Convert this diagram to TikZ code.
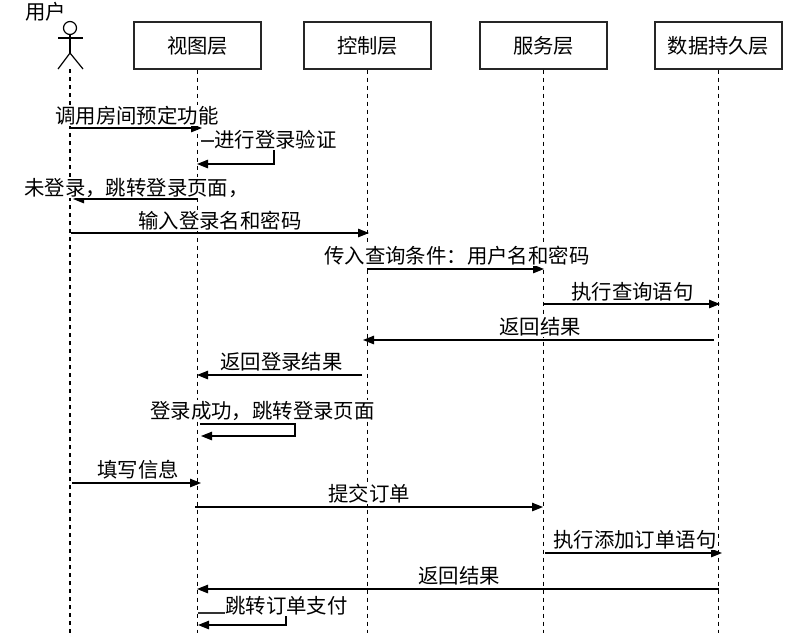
\documentclass[tikz,border=0pt]{standalone}
\usepackage{fontspec}
\setmainfont{Noto Sans CJK SC}
\usetikzlibrary{arrows.meta}
\tikzset{
  x=1pt,y=-1pt,
  head/.style={draw=black!85,line width=1.2pt,minimum width=127pt,minimum height=47pt,inner sep=0pt,font=\fontsize{20.3}{22}\selectfont,fill=white},
  life/.style={draw=black,line width=1.2pt,dash pattern=on 4pt off 4pt},
  msg/.style={draw=black,line width=1.2pt,-{Triangle[length=11pt,width=8.5pt]}},
  plainline/.style={draw=black!80,line width=1.1pt},
  lbl/.style={anchor=west,inner sep=0pt,fill=white,text height=19pt,text depth=2pt,font=\fontsize{20.4}{22}\selectfont},
}
\begin{document}
\begin{tikzpicture}
\useasboundingbox (0,0) rectangle (797,633);
% heads
\node[head] (v) at (197.5,45.5) {视图层};
\node[head] (c) at (367.5,45.5) {控制层};
\node[head] (s) at (543.5,45.5) {服务层};
\node[head] (d) at (718.5,45.5) {数据持久层};
\node[lbl] (ulbl) at (25,11) {用户};
% actor
\node[draw=black,line width=1.2pt,circle,minimum size=13pt,inner sep=0pt] (uh) at (70,28) {};
\coordinate (hip) at (70,53);
\coordinate (uf) at (70,69);
\draw[line width=1.2pt] (uh.south) -- (hip);
\draw[line width=1.2pt] (58,38) -- (83,38);
\draw[line width=1.2pt] (58,69) -- (hip) -- (83,69);
% lifelines
\coordinate (ue) at (70,633);
\draw[life] (uf) -- (ue);
\foreach \n/\x in {v/197.5,c/367.5,s/543.5,d/718.5}{
  \coordinate (\n e) at (\x,633);
  \draw[life] (\n.south) -- (\n e);
}
% messages
\foreach \nm/\ax/\ay/\bx/\by in {
 m1/71/128/202/128, m3/198/199/73/199, m4/71/233/369/233, m5/367/269/544/269,
 m6/544/304/720/304, m7/714/340/363/340, m8/362/375/197/375, m9/72/483/201/483,
 m10/195/507/543/507, m11/545/553/722/553, m12/719/589/197/589}{
  \coordinate (\nm a) at (\ax,\ay);
  \coordinate (\nm b) at (\bx,\by);
  \draw[msg] (\nm a) -- (\nm b);
}
% self messages
\coordinate (a1) at (201,141); \coordinate (a1e) at (214,141);
\coordinate (a2) at (274,150); \coordinate (a3) at (274,164); \coordinate (a4) at (197,164);
\draw[msg] (a2) -- (a3) -- (a4);
\coordinate (b1) at (200,424); \coordinate (b2) at (295,424); \coordinate (b3) at (295,436); \coordinate (b4) at (201,436);
\draw[msg] (b1) -- (b2) -- (b3) -- (b4);
\coordinate (c3) at (286,616); \coordinate (c4) at (286,625); \coordinate (c5) at (198,625);
\draw[msg] (c3) -- (c4) -- (c5);
% labels
\node[lbl] (t1) at (55,115) {调用房间预定功能};
\node[lbl] (t2) at (214,139) {进行登录验证};
\node[lbl] (t3) at (24,187) {未登录，跳转登录页面，};
\node[lbl] (t4) at (138,220) {输入登录名和密码};
\node[lbl] (t5) at (324,255) {传入查询条件：用户名和密码};
\node[lbl] (t6) at (571,291) {执行查询语句};
\node[lbl] (t7) at (499,326) {返回结果};
\node[lbl] (t8) at (220,361) {返回登录结果};
\node[lbl] (t9) at (150,410) {登录成功，跳转登录页面};
\node[lbl] (t10) at (97,469) {填写信息};
\node[lbl] (t11) at (328,493) {提交订单};
\node[lbl] (t12) at (553,539) {执行添加订单语句};
\node[lbl] (t13) at (418,575) {返回结果};
\node[lbl] (t14) at (225,605) {跳转订单支付};
\coordinate (c1) at (198,613); \coordinate (c2) at (225,613);
\draw[plainline] (c1) -- (c2);
\draw[plainline] (a1) -- (a1e);
\end{tikzpicture}
\end{document}
